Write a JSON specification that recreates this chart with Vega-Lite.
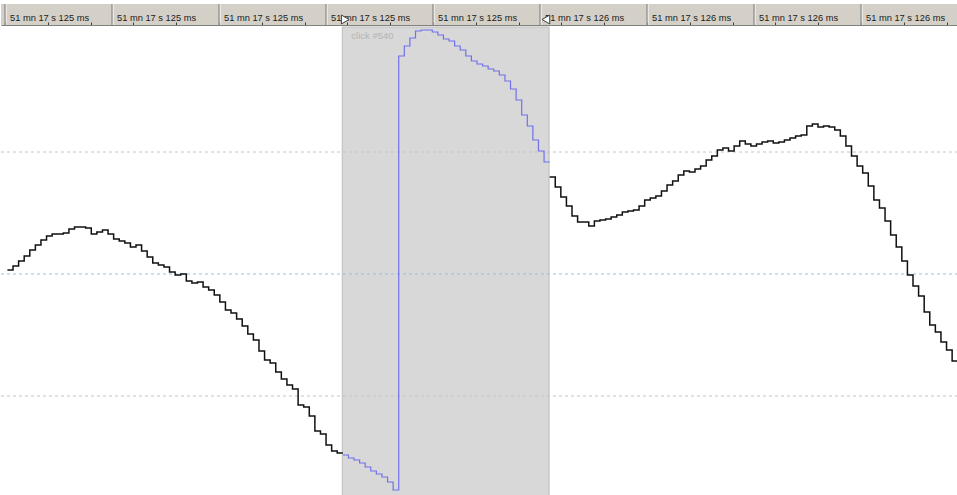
{
  "$schema": "https://vega.github.io/schema/vega-lite/v6.json",
  "background": "white",
  "padding": {"top": 3, "left": 0, "right": 0, "bottom": 0},
  "spacing": 0,
  "config": {"view": {"stroke": null}, "concat": {"spacing": 0}},
  "resolve": {"scale": {"x": "independent", "y": "independent"}},
  "vconcat": [
    {
      "width": 957,
      "height": 21,
      "view": {"fill": "#d4d0c8", "stroke": null},
      "data": {"values": [
        {"t": 0, "label": "51 mn 17 s 125 ms"},
        {"t": 200, "label": "51 mn 17 s 125 ms"},
        {"t": 400, "label": "51 mn 17 s 125 ms"},
        {"t": 600, "label": "51 mn 17 s 125 ms"},
        {"t": 800, "label": "51 mn 17 s 125 ms"},
        {"t": 1000, "label": "51 mn 17 s 126 ms"},
        {"t": 1200, "label": "51 mn 17 s 126 ms"},
        {"t": 1400, "label": "51 mn 17 s 126 ms"},
        {"t": 1600, "label": "51 mn 17 s 126 ms"}
      ]},
      "layer": [
        {
          "mark": {"type": "rule", "color": "#ffffff", "strokeWidth": 1, "xOffset": 1},
          "encoding": {
            "x": {
              "field": "t", "type": "quantitative",
              "scale": {"domain": [-7.48, 1781.3], "nice": false, "zero": false},
              "axis": {
                "orient": "top", "offset": -21, "title": null, "labels": false, "grid": false,
                "domain": true, "domainColor": "#808080",
                "ticks": true, "tickColor": "#404040",
                "tickSize": {"condition": {"test": "datum.value % 200 === 100", "value": 10}, "value": 3},
                "values": [0,20,40,60,80,100,120,140,160,180,200,220,240,260,280,300,320,340,360,380,400,420,440,460,480,500,520,540,560,580,600,620,640,660,680,700,720,740,760,780,800,820,840,860,880,900,920,940,960,980,1000,1020,1040,1060,1080,1100,1120,1140,1160,1180,1200,1220,1240,1260,1280,1300,1320,1340,1360,1380,1400,1420,1440,1460,1480,1500,1520,1540,1560,1580,1600,1620,1640,1660,1680,1700,1720,1740,1760,1780]
              }
            }
          }
        },
        {
          "mark": {"type": "rule", "color": "#7a7a7a", "strokeWidth": 1},
          "encoding": {"x": {"field": "t", "type": "quantitative"}}
        },
        {
          "mark": {"type": "text", "align": "left", "baseline": "alphabetic", "dx": 5, "dy": 6, "font": "Liberation Sans", "fontSize": 9.3, "color": "#1a1a1a"},
          "encoding": {"x": {"field": "t", "type": "quantitative"}, "text": {"field": "label"}}
        },
        {
          "data": {"values": [{"t": 636, "edge": "start"}, {"t": 1011, "edge": "end"}]},
          "mark": {"type": "point", "filled": true, "fill": "#ffffff", "stroke": "#3a3a3a", "strokeWidth": 1, "size": 80, "opacity": 1, "yOffset": 5},
          "encoding": {
            "x": {"field": "t", "type": "quantitative"},
            "shape": {"field": "edge", "type": "nominal", "scale": {"domain": ["start", "end"], "range": ["triangle-right", "triangle-left"]}, "legend": null}
          }
        }
      ]
    },
    {
      "width": 957,
      "height": 471,
      "layer": [
        {
          "data": {"values": [{"from": 58.9, "to": 95.9, "label": "click #540"}]},
          "mark": {"type": "rect", "fill": "#d8d8d8", "stroke": "#bdbdbd", "strokeWidth": 1},
          "encoding": {
            "x": {"field": "from", "type": "quantitative", "scale": {"domain": [-2.15, 169.05], "nice": false, "zero": false}, "axis": null},
            "x2": {"field": "to"}
          }
        },
        {
          "data": {"values": [{"from": 58.9, "to": 95.9, "label": "click #540"}]},
          "mark": {"type": "text", "align": "left", "baseline": "top", "dx": 9, "dy": 4, "font": "Liberation Sans", "fontSize": 9.5, "color": "#b4b4b4"},
          "encoding": {
            "x": {"field": "from", "type": "quantitative", "scale": {"domain": [-2.15, 169.05], "nice": false, "zero": false}, "axis": null},
            "y": {"datum": 247, "type": "quantitative", "scale": {"domain": [-224, 247], "nice": false, "zero": false}, "axis": null},
            "text": {"field": "label"}
          }
        },
        {
          "data": {"values": [{"v": 122}, {"v": -122}]},
          "mark": {"type": "rule", "color": "#b9c6d2", "strokeDash": [3, 3], "strokeWidth": 1},
          "encoding": {"y": {"field": "v", "type": "quantitative", "scale": {"domain": [-224, 247], "nice": false, "zero": false}, "axis": null}}
        },
        {
          "data": {"values": [{"v": 0}]},
          "mark": {"type": "rule", "color": "#96bfe3", "strokeDash": [3, 3], "strokeWidth": 1},
          "encoding": {"y": {"field": "v", "type": "quantitative", "scale": {"domain": [-224, 247], "nice": false, "zero": false}, "axis": null}}
        },
        {
          "data": {"name": "wave"},
          "transform": [{"filter": "datum.seg !== 'b'"}],
          "mark": {"type": "line", "interpolate": "step-after", "color": "#111111", "strokeWidth": 1.5, "clip": true},
          "encoding": {
            "x": {"field": "n", "type": "quantitative", "scale": {"domain": [-2.15, 169.05], "nice": false, "zero": false}, "axis": null},
            "y": {"field": "v", "type": "quantitative", "scale": {"domain": [-224, 247], "nice": false, "zero": false}, "axis": null},
            "detail": {"field": "seg", "type": "nominal"}
          }
        },
        {
          "data": {"name": "wave"},
          "transform": [{"filter": "datum.seg === 'b'"}],
          "mark": {"type": "line", "interpolate": "step-after", "color": "#7070ee", "strokeWidth": 1.2, "clip": true},
          "encoding": {
            "x": {"field": "n", "type": "quantitative", "scale": {"domain": [-2.15, 169.05], "nice": false, "zero": false}, "axis": null},
            "y": {"field": "v", "type": "quantitative", "scale": {"domain": [-224, 247], "nice": false, "zero": false}, "axis": null}
          }
        }
      ]
    }
  ],
  "datasets": {
    "wave": [
      {"n": -1, "v": 4, "seg": "a"}, {"n": 0, "v": 8, "seg": "a"}, {"n": 1, "v": 13, "seg": "a"}, {"n": 2, "v": 18, "seg": "a"},
      {"n": 3, "v": 24, "seg": "a"}, {"n": 4, "v": 29, "seg": "a"}, {"n": 5, "v": 34, "seg": "a"}, {"n": 6, "v": 38, "seg": "a"},
      {"n": 7, "v": 40, "seg": "a"}, {"n": 8, "v": 40, "seg": "a"}, {"n": 9, "v": 41, "seg": "a"}, {"n": 10, "v": 45, "seg": "a"},
      {"n": 11, "v": 47, "seg": "a"}, {"n": 12, "v": 47, "seg": "a"}, {"n": 13, "v": 46, "seg": "a"}, {"n": 14, "v": 40, "seg": "a"},
      {"n": 15, "v": 42, "seg": "a"}, {"n": 16, "v": 44, "seg": "a"}, {"n": 17, "v": 40, "seg": "a"}, {"n": 18, "v": 35, "seg": "a"},
      {"n": 19, "v": 33, "seg": "a"}, {"n": 20, "v": 31, "seg": "a"}, {"n": 21, "v": 27, "seg": "a"}, {"n": 22, "v": 29, "seg": "a"},
      {"n": 23, "v": 23, "seg": "a"}, {"n": 24, "v": 17, "seg": "a"}, {"n": 25, "v": 11, "seg": "a"}, {"n": 26, "v": 9, "seg": "a"},
      {"n": 27, "v": 7, "seg": "a"}, {"n": 28, "v": 2, "seg": "a"}, {"n": 29, "v": -1, "seg": "a"}, {"n": 30, "v": 0, "seg": "a"},
      {"n": 31, "v": -7, "seg": "a"}, {"n": 32, "v": -9, "seg": "a"}, {"n": 33, "v": -8, "seg": "a"}, {"n": 34, "v": -13, "seg": "a"},
      {"n": 35, "v": -16, "seg": "a"}, {"n": 36, "v": -21, "seg": "a"}, {"n": 37, "v": -28, "seg": "a"}, {"n": 38, "v": -36, "seg": "a"},
      {"n": 39, "v": -39, "seg": "a"}, {"n": 40, "v": -45, "seg": "a"}, {"n": 41, "v": -52, "seg": "a"}, {"n": 42, "v": -60, "seg": "a"},
      {"n": 43, "v": -66, "seg": "a"}, {"n": 44, "v": -77, "seg": "a"}, {"n": 45, "v": -86, "seg": "a"}, {"n": 46, "v": -89, "seg": "a"},
      {"n": 47, "v": -98, "seg": "a"}, {"n": 48, "v": -105, "seg": "a"}, {"n": 49, "v": -111, "seg": "a"}, {"n": 50, "v": -115, "seg": "a"},
      {"n": 51, "v": -131, "seg": "a"}, {"n": 52, "v": -133, "seg": "a"}, {"n": 53, "v": -142, "seg": "a"}, {"n": 54, "v": -157, "seg": "a"},
      {"n": 55, "v": -160, "seg": "a"}, {"n": 56, "v": -171, "seg": "a"}, {"n": 57, "v": -177, "seg": "a"}, {"n": 58, "v": -179, "seg": "a"},
      {"n": 59, "v": -179, "seg": "a"},
      {"n": 59, "v": -181, "seg": "b"}, {"n": 60, "v": -184, "seg": "b"}, {"n": 61, "v": -186, "seg": "b"}, {"n": 62, "v": -189, "seg": "b"},
      {"n": 63, "v": -193, "seg": "b"}, {"n": 64, "v": -197, "seg": "b"}, {"n": 65, "v": -200, "seg": "b"}, {"n": 66, "v": -203, "seg": "b"},
      {"n": 67, "v": -208, "seg": "b"}, {"n": 68, "v": -216, "seg": "b"}, {"n": 69, "v": 218, "seg": "b"}, {"n": 70, "v": 228, "seg": "b"},
      {"n": 71, "v": 236, "seg": "b"}, {"n": 72, "v": 243, "seg": "b"}, {"n": 73, "v": 244, "seg": "b"}, {"n": 74, "v": 244, "seg": "b"},
      {"n": 75, "v": 242, "seg": "b"}, {"n": 76, "v": 239, "seg": "b"}, {"n": 77, "v": 235, "seg": "b"}, {"n": 78, "v": 233, "seg": "b"},
      {"n": 79, "v": 228, "seg": "b"}, {"n": 80, "v": 224, "seg": "b"}, {"n": 81, "v": 218, "seg": "b"}, {"n": 82, "v": 213, "seg": "b"},
      {"n": 83, "v": 210, "seg": "b"}, {"n": 84, "v": 208, "seg": "b"}, {"n": 85, "v": 205, "seg": "b"}, {"n": 86, "v": 203, "seg": "b"},
      {"n": 87, "v": 199, "seg": "b"}, {"n": 88, "v": 193, "seg": "b"}, {"n": 89, "v": 185, "seg": "b"}, {"n": 90, "v": 174, "seg": "b"},
      {"n": 91, "v": 159, "seg": "b"}, {"n": 92, "v": 148, "seg": "b"}, {"n": 93, "v": 134, "seg": "b"}, {"n": 94, "v": 123, "seg": "b"},
      {"n": 95, "v": 112, "seg": "b"}, {"n": 96, "v": 112, "seg": "b"},
      {"n": 96, "v": 97, "seg": "c"}, {"n": 97, "v": 87, "seg": "c"}, {"n": 98, "v": 77, "seg": "c"}, {"n": 99, "v": 68, "seg": "c"},
      {"n": 100, "v": 58, "seg": "c"}, {"n": 101, "v": 52, "seg": "c"}, {"n": 102, "v": 52, "seg": "c"}, {"n": 103, "v": 48, "seg": "c"},
      {"n": 104, "v": 53, "seg": "c"}, {"n": 105, "v": 54, "seg": "c"}, {"n": 106, "v": 55, "seg": "c"}, {"n": 107, "v": 57, "seg": "c"},
      {"n": 108, "v": 59, "seg": "c"}, {"n": 109, "v": 62, "seg": "c"}, {"n": 110, "v": 63, "seg": "c"}, {"n": 111, "v": 64, "seg": "c"},
      {"n": 112, "v": 68, "seg": "c"}, {"n": 113, "v": 74, "seg": "c"}, {"n": 114, "v": 76, "seg": "c"}, {"n": 115, "v": 78, "seg": "c"},
      {"n": 116, "v": 83, "seg": "c"}, {"n": 117, "v": 89, "seg": "c"}, {"n": 118, "v": 93, "seg": "c"}, {"n": 119, "v": 99, "seg": "c"},
      {"n": 120, "v": 103, "seg": "c"}, {"n": 121, "v": 102, "seg": "c"}, {"n": 122, "v": 105, "seg": "c"}, {"n": 123, "v": 108, "seg": "c"},
      {"n": 124, "v": 114, "seg": "c"}, {"n": 125, "v": 118, "seg": "c"}, {"n": 126, "v": 124, "seg": "c"}, {"n": 127, "v": 126, "seg": "c"},
      {"n": 128, "v": 123, "seg": "c"}, {"n": 129, "v": 128, "seg": "c"}, {"n": 130, "v": 133, "seg": "c"}, {"n": 131, "v": 130, "seg": "c"},
      {"n": 132, "v": 128, "seg": "c"}, {"n": 133, "v": 130, "seg": "c"}, {"n": 134, "v": 132, "seg": "c"}, {"n": 135, "v": 133, "seg": "c"},
      {"n": 136, "v": 131, "seg": "c"}, {"n": 137, "v": 132, "seg": "c"}, {"n": 138, "v": 134, "seg": "c"}, {"n": 139, "v": 136, "seg": "c"},
      {"n": 140, "v": 138, "seg": "c"}, {"n": 141, "v": 139, "seg": "c"}, {"n": 142, "v": 148, "seg": "c"}, {"n": 143, "v": 150, "seg": "c"},
      {"n": 144, "v": 147, "seg": "c"}, {"n": 145, "v": 148, "seg": "c"}, {"n": 146, "v": 147, "seg": "c"}, {"n": 147, "v": 144, "seg": "c"},
      {"n": 148, "v": 138, "seg": "c"}, {"n": 149, "v": 128, "seg": "c"}, {"n": 150, "v": 118, "seg": "c"}, {"n": 151, "v": 108, "seg": "c"},
      {"n": 152, "v": 101, "seg": "c"}, {"n": 153, "v": 88, "seg": "c"}, {"n": 154, "v": 74, "seg": "c"}, {"n": 155, "v": 66, "seg": "c"},
      {"n": 156, "v": 53, "seg": "c"}, {"n": 157, "v": 39, "seg": "c"}, {"n": 158, "v": 27, "seg": "c"}, {"n": 159, "v": 13, "seg": "c"},
      {"n": 160, "v": -1, "seg": "c"}, {"n": 161, "v": -12, "seg": "c"}, {"n": 162, "v": -22, "seg": "c"}, {"n": 163, "v": -38, "seg": "c"},
      {"n": 164, "v": -51, "seg": "c"}, {"n": 165, "v": -58, "seg": "c"}, {"n": 166, "v": -68, "seg": "c"}, {"n": 167, "v": -76, "seg": "c"},
      {"n": 168, "v": -87, "seg": "c"}, {"n": 170, "v": -87, "seg": "c"}
    ]
  }
}
